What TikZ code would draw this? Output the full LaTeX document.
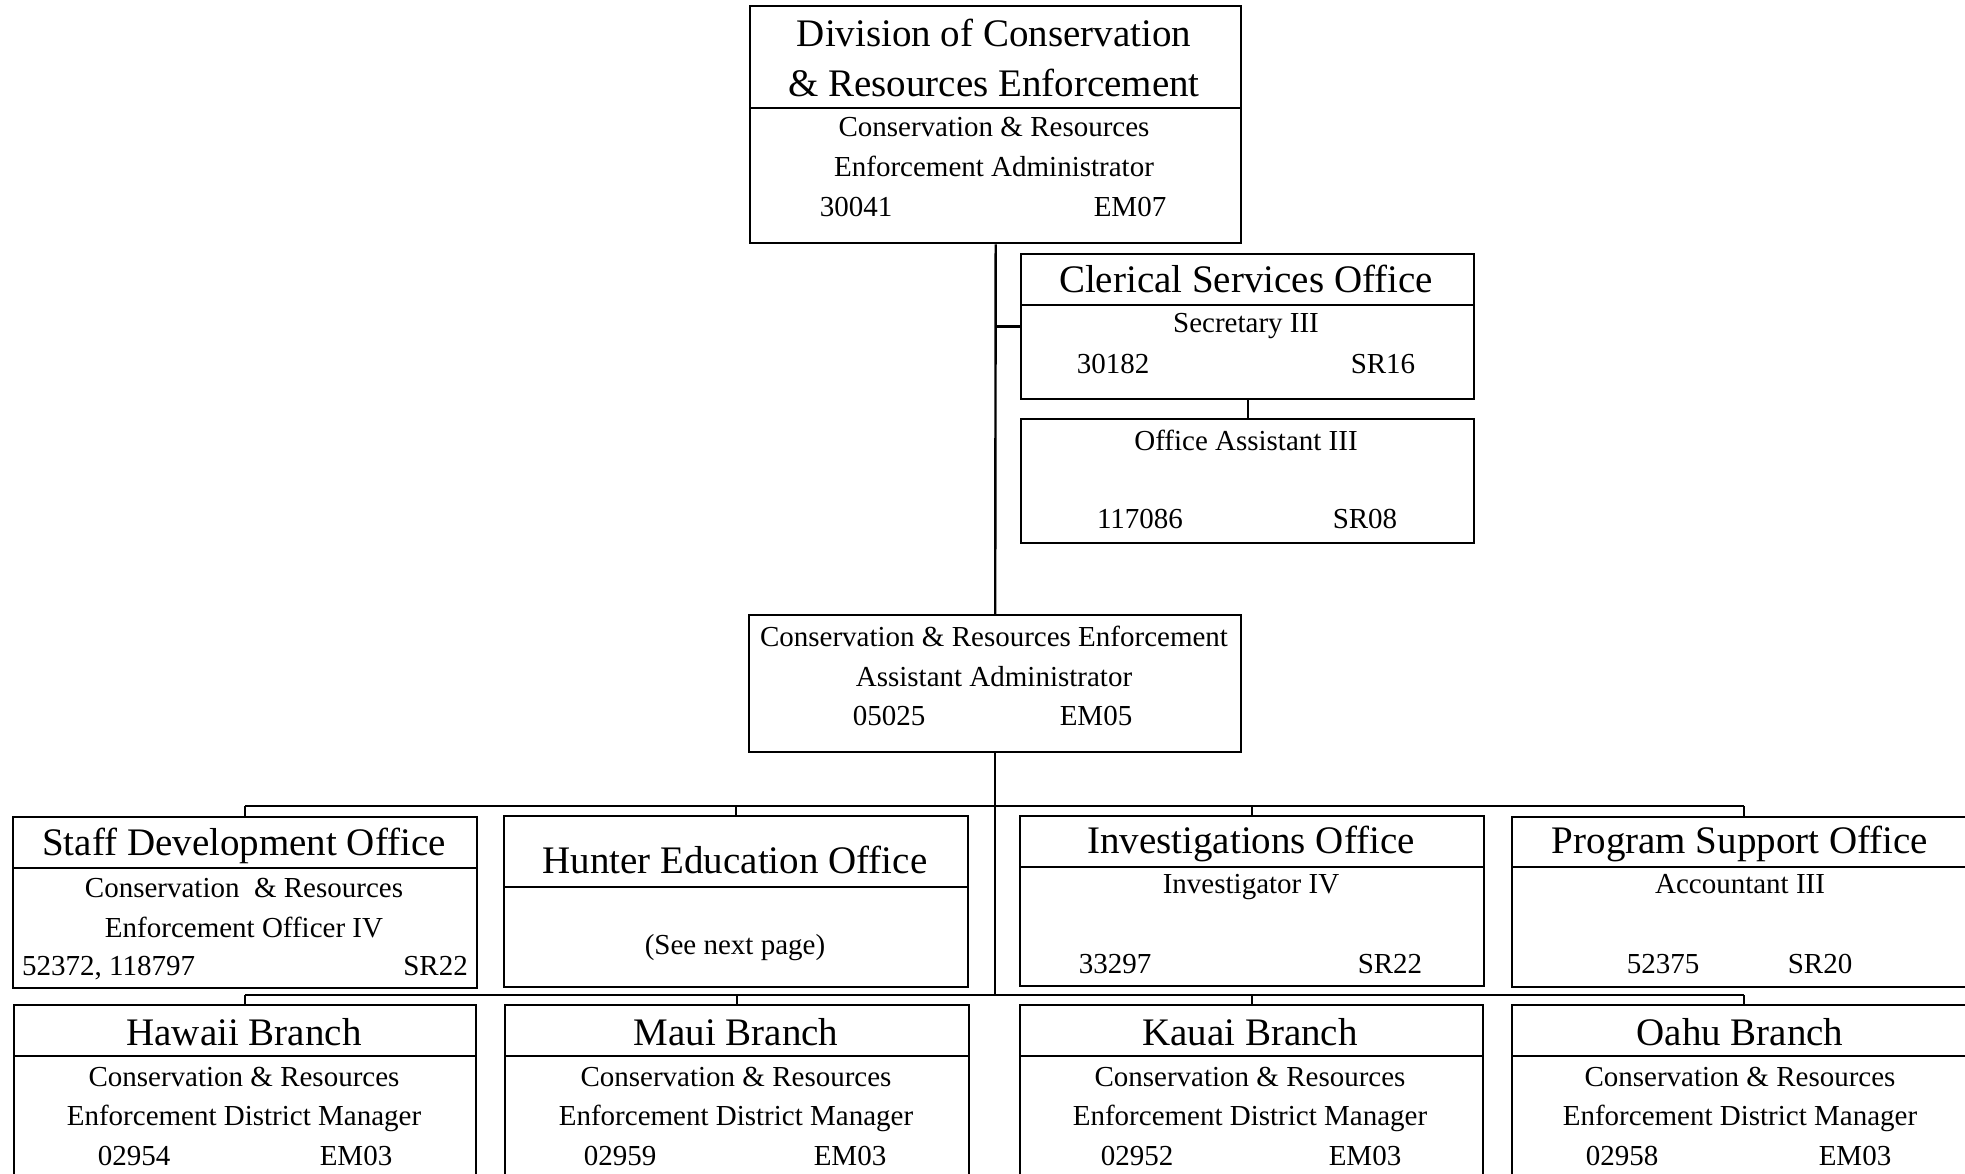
\documentclass[tikz,border=0pt]{standalone}
\usepackage{fontspec}
\setmainfont{Liberation Serif}
\newcommand\TitleFont{\fontsize{39}{47}\selectfont}
\newcommand\BodyFont{\fontsize{29}{35}\selectfont}
\begin{document}
\begin{tikzpicture}[x=1pt,y=-1pt,
  orgbox/.style={draw,line width=2.4pt,rectangle,inner sep=0pt,anchor=north west},
  divline/.style={line width=2pt},
  conn/.style={line width=2.4pt},
  ttl/.style={anchor=base,inner sep=0pt,font=\TitleFont},
  bdy/.style={anchor=base,inner sep=0pt,font=\BodyFont},
  bdyw/.style={anchor=base west,inner sep=0pt,font=\BodyFont},
  bdye/.style={anchor=base east,inner sep=0pt,font=\BodyFont}]
\useasboundingbox (0,0) rectangle (1965,1174);
\clip (0,0) rectangle (1965,1174);
\fill[white] (0,0) rectangle (1965,1174);

% ---- boxes ----
\node[orgbox,minimum width=491pt,minimum height=237pt] (div) at (749,5) {};
\node[orgbox,minimum width=453pt,minimum height=145pt] (cler) at (1020,253) {};
\node[orgbox,minimum width=453pt,minimum height=124pt] (oa) at (1020,418) {};
\node[orgbox,minimum width=492pt,minimum height=137pt] (asst) at (748,614) {};
\node[orgbox,minimum width=464pt,minimum height=171pt] (sdo) at (12,816) {};
\node[orgbox,minimum width=464pt,minimum height=171pt] (heo) at (503,815) {};
\node[orgbox,minimum width=464pt,minimum height=170pt] (ino) at (1019,815) {};
\node[orgbox,minimum width=464pt,minimum height=170pt] (pso) at (1511,816) {};
\node[orgbox,minimum width=462pt,minimum height=200pt] (haw) at (13,1004) {};
\node[orgbox,minimum width=464pt,minimum height=200pt] (mau) at (504,1004) {};
\node[orgbox,minimum width=463pt,minimum height=200pt] (kau) at (1019,1004) {};
\node[orgbox,minimum width=464pt,minimum height=200pt] (oah) at (1511,1004) {};

% ---- dividers ----
\draw[divline] (div.west |- 0,108) -- (div.east |- 0,108);
\draw[divline] (cler.west |- 0,305) -- (cler.east |- 0,305);
\draw[divline] (sdo.west |- 0,868) -- (sdo.east |- 0,868);
\draw[divline] (heo.west |- 0,887) -- (heo.east |- 0,887);
\draw[divline] (ino.west |- 0,867) -- (ino.east |- 0,867);
\draw[divline] (pso.west |- 0,867) -- (pso.east |- 0,867);
\foreach \b in {haw,mau,kau,oah}{\draw[divline] (\b.west |- 0,1056) -- (\b.east |- 0,1056);}

% ---- connectors ----
\coordinate (b1) at (asst.south |- 0,806);
\coordinate (b2) at (asst.south |- 0,995);
\draw[conn] (div.south) -- (asst.north);
\draw[conn] (div.south |- cler.west) -- (cler.west);
\draw[conn] (cler.south) -- (oa.north);
\draw[conn] (asst.south) -- (b2);
\draw[conn] (sdo.north |- b1) -- (pso.north |- b1);
\foreach \b in {sdo,heo,ino,pso}{\draw[conn] (\b.north |- b1) -- (\b.north);}
\draw[conn] (haw.north |- b2) -- (oah.north |- b2);
\foreach \b in {haw,mau,kau,oah}{\draw[conn] (\b.north |- b2) -- (\b.north);}

% ---- texts ----
\node[ttl] (divt1) at (994,47) {Division of Conservation};
\node[ttl] (divt2) at (994,97) {\& Resources Enforcement};
\node[bdy] (divb1) at (994,137) {Conservation \& Resources};
\node[bdy] (divb2) at (994,177) {Enforcement Administrator};
\node[bdy] (divn) at (856,217) {30041};
\node[bdy] (divg) at (1130,217) {EM07};

\node[ttl] (clert) at (1246,293) {Clerical Services Office};
\node[bdy] (clerb) at (1246,333) {Secretary III};
\node[bdy] (clern) at (1113,373) {30182};
\node[bdy] (clerg) at (1383,373) {SR16};

\node[bdy] (oab) at (1246,450) {Office Assistant III};
\node[bdy] (oan) at (1140,528) {117086};
\node[bdy] (oag) at (1365,528) {SR08};

\node[bdy] (asb1) at (994,646) {Conservation \& Resources Enforcement};
\node[bdy] (asb2) at (994,686) {Assistant Administrator};
\node[bdy] (asn) at (889,725) {05025};
\node[bdy] (asg) at (1096,725) {EM05};

\node[ttl] (sdot) at (244,855) {Staff Development Office};
\node[bdy] (sdob1) at (244,897) {Conservation\ \ \& Resources};
\node[bdy] (sdob2) at (244,937) {Enforcement Officer IV};
\node[bdyw] (sdon) at (22,975) {52372, 118797};
\node[bdye] (sdog) at (468,975) {SR22};

\node[ttl] (heot) at (735,873) {Hunter Education Office};
\node[bdy] (heob) at (735,954) {(See next page)};

\node[ttl] (inot) at (1251,853) {Investigations Office};
\node[bdy] (inob) at (1251,893) {Investigator IV};
\node[bdy] (inon) at (1115,973) {33297};
\node[bdy] (inog) at (1390,973) {SR22};

\node[ttl] (psot) at (1740,853) {Program Support Office};
\node[bdy] (psob) at (1740,893) {Accountant III};
\node[bdy] (pson) at (1663,973) {52375};
\node[bdy] (psog) at (1820,973) {SR20};

\foreach \n/\cx/\t/\num/\nx/\gx in {haw/244/Hawaii/02954/134/356, mau/736/Maui/02959/620/850, kau/1250/Kauai/02952/1137/1365, oah/1740/Oahu/02958/1622/1855}{
  \node[ttl] (\n t) at (\cx,1045) {\t\ Branch};
  \node[bdy] (\n b1) at (\cx,1086) {Conservation \& Resources};
  \node[bdy] (\n b2) at (\cx,1125) {Enforcement District Manager};
  \node[bdy] (\n n) at (\nx,1165) {\num};
  \node[bdy] (\n g) at (\gx,1165) {EM03};
}
\end{tikzpicture}
\end{document}
